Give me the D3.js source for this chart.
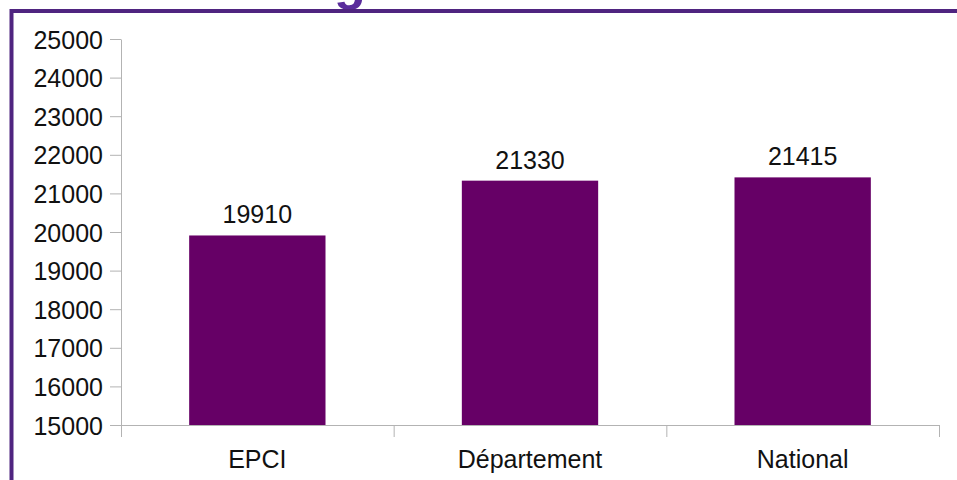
<!DOCTYPE html>
<html lang="fr">
<head>
<meta charset="UTF-8">
<script src="https://d3js.org/d3.v7.min.js"></script>
<style>
  body { margin: 0; background: #fff; }
  text { font-family: "Liberation Sans", Arial, sans-serif; fill: #111; }
</style>
</head>
<body>
<svg id="canvas"></svg>
<script>
// data
let categories = ['EPCI', 'Département', 'National']
let values = [19910, 21330, 21415]
let yTicks = [15000, 16000, 17000, 18000, 19000, 20000, 21000, 22000, 23000, 24000, 25000]

let width = 957
let height = 480
let plotLeft = 121
let plotRight = 939
let plotTop = 39
let plotBottom = 425

let svg = d3.select('#canvas')
  .attr('width', width)
  .attr('height', height)

// bit of the title that pokes into view
svg.append('text')
  .attr('x', 334).attr('y', -1)
  .style('font-size', '52px')
  .style('font-weight', 'bold')
  .style('fill', '#5a2c9c')
  .text('g')

// purple frame, cut by the window
svg.append('rect')
  .attr('x', 11.5).attr('y', 11)
  .attr('width', 1000).attr('height', 600)
  .attr('fill', 'none')
  .attr('stroke', '#4f2480')
  .attr('stroke-width', 4)

let yScale = d3.scaleLinear()
  .domain([15000, 25000])
  .range([plotBottom, plotTop])

let xBand = d3.scaleBand()
  .domain(categories)
  .range([plotLeft, plotRight])
  .paddingInner(0)
  .paddingOuter(0)

// y axis
let yAxis = d3.axisLeft(yScale)
  .tickValues(yTicks)
  .tickSize(11)
  .tickSizeOuter(0)
  .tickPadding(7)
  .tickFormat(d3.format('d'))

let gy = svg.append('g')
  .attr('transform', 'translate(' + plotLeft + ',0)')
  .call(yAxis)
gy.selectAll('path, line').attr('stroke', '#b3b3b3')
gy.selectAll('text').style('font-size', '25px').attr('dy', '0.36em')

// x axis: ticks on band boundaries
let xIdx = d3.scaleLinear().domain([0, categories.length]).range([plotLeft, plotRight])
let gx = svg.append('g')
  .attr('transform', 'translate(0,' + plotBottom + ')')
  .call(d3.axisBottom(xIdx).ticks(categories.length).tickSize(12).tickSizeOuter(0).tickFormat(''))
gx.selectAll('path, line').attr('stroke', '#b3b3b3')

svg.selectAll('.cat')
  .data(categories)
  .enter()
  .append('text')
  .attr('class', 'cat')
  .attr('x', d => xBand(d) + xBand.bandwidth() / 2)
  .attr('y', 468)
  .attr('text-anchor', 'middle')
  .style('font-size', '25px')
  .text(d => d)

// bars
let barW = xBand.bandwidth() * 0.5
svg.selectAll('.bar')
  .data(values)
  .enter()
  .append('rect')
  .attr('class', 'bar')
  .attr('x', (d, i) => xBand(categories[i]) + (xBand.bandwidth() - barW) / 2)
  .attr('y', d => yScale(d))
  .attr('width', barW)
  .attr('height', d => plotBottom - yScale(d))
  .attr('fill', '#660066')

// value labels
svg.selectAll('.val')
  .data(values)
  .enter()
  .append('text')
  .attr('class', 'val')
  .attr('x', (d, i) => xBand(categories[i]) + xBand.bandwidth() / 2)
  .attr('y', d => yScale(d) - 12)
  .attr('text-anchor', 'middle')
  .style('font-size', '25px')
  .text(d => d)
</script>
</body>
</html>
